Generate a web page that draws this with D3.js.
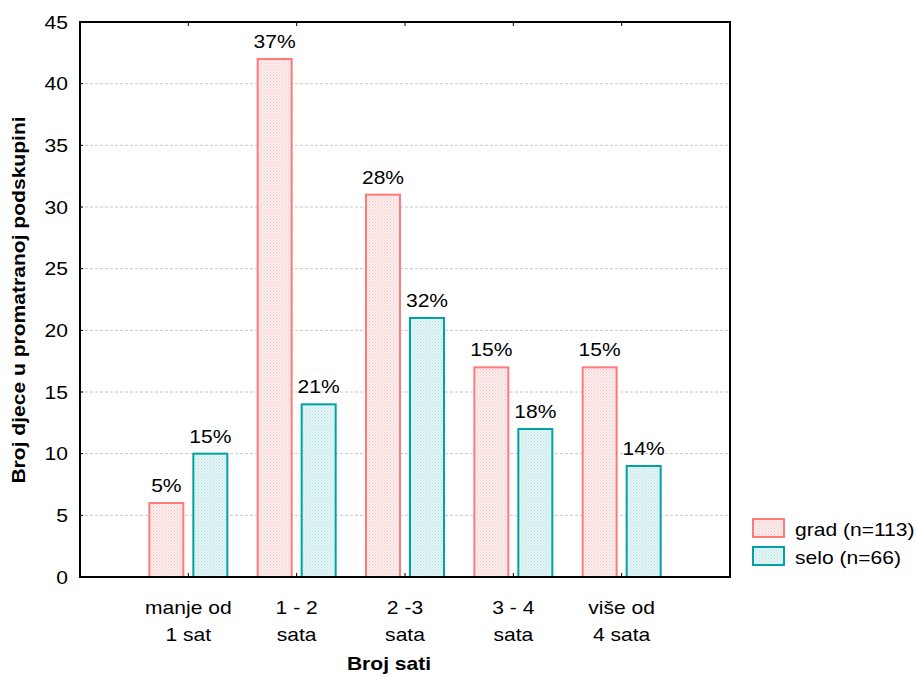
<!DOCTYPE html>
<html>
<head>
<meta charset="utf-8">
<script src="https://cdn.jsdelivr.net/npm/d3@7"></script>
<style>
body { margin: 0; background: #fff; }
svg { font-family: "Liberation Sans", Arial, sans-serif; }
</style>
</head>
<body>
<svg id="chart" width="917" height="676"></svg>
<script>
const categories = [["manje od", "1 sat"], ["1 - 2", "sata"], ["2 -3", "sata"], ["3 - 4", "sata"], ["više od", "4 sata"]];
const gradValues = [6, 42, 31, 17, 17];
const seloValues = [10, 14, 21, 12, 9];
const gradLabels = ["5%", "37%", "28%", "15%", "15%"];
const seloLabels = ["15%", "21%", "32%", "18%", "14%"];
const yTicks = [0, 5, 10, 15, 20, 25, 30, 35, 40, 45];
const seriesNames = ["grad (n=113)", "selo (n=66)"];

const svg = d3.select("#chart");
const L = 80, R = 730, T = 22, B = 577;
const FS = 18, SX = 1.17;

const y = d3.scaleLinear().domain([0, 45]).range([B, T]);
const x = d3.scaleLinear().domain([0, 6]).range([L, R]);

function txt(parent, px, py, str, anchor, bold, rot) {
  return parent.append("text")
    .attr("transform", `translate(${px},${py})` + (rot ? ` rotate(${rot})` : "") + ` scale(${SX},1)`)
    .attr("text-anchor", anchor || "start")
    .attr("font-size", FS)
    .attr("font-weight", bold ? "bold" : "normal")
    .attr("fill", "#000")
    .text(str);
}

const defs = svg.append("defs");
function pattern(id, bg, dot) {
  const p = defs.append("pattern").attr("id", id).attr("width", 3).attr("height", 3)
    .attr("patternUnits", "userSpaceOnUse");
  p.append("rect").attr("width", 3).attr("height", 3).attr("fill", bg);
  p.append("rect").attr("width", 1).attr("height", 1).attr("fill", dot);
  p.append("rect").attr("x", 1.5).attr("y", 1.5).attr("width", 1).attr("height", 1).attr("fill", dot);
}
pattern("pinkPat", "#fdeeee", "#f7c6c6");
pattern("tealPat", "#e6f6f6", "#b3e0e0");
const series = [
  {values: gradValues, labels: gradLabels, stroke: "#ff7b7b", fill: "url(#pinkPat)", off: -39},
  {values: seloValues, labels: seloLabels, stroke: "#00a3a3", fill: "url(#tealPat)", off: 5}
];
const bw = 34;

// gridlines
svg.append("g").selectAll("line").data(yTicks.filter(d => d > 0 && d < 45)).join("line")
  .attr("x1", L).attr("x2", R).attr("y1", d => y(d)).attr("y2", d => y(d))
  .attr("stroke", "#c8c8c8").attr("stroke-dasharray", "3,2").attr("stroke-width", 1);

// bars
series.forEach(s => {
  const g = svg.append("g");
  g.selectAll("rect").data(s.values).join("rect")
    .attr("x", (d, i) => x(i + 1) + s.off)
    .attr("y", d => y(d))
    .attr("width", bw)
    .attr("height", d => B - y(d))
    .attr("fill", s.fill)
    .attr("stroke", s.stroke)
    .attr("stroke-width", 2);
  s.values.forEach((d, i) => {
    txt(g, x(i + 1) + s.off + bw / 2, y(d) - 11, s.labels[i], "middle");
  });
});

// y axis ticks (inside) and labels
const ya = svg.append("g");
ya.selectAll("line").data(yTicks).join("line")
  .attr("x1", L).attr("x2", L + 3).attr("y1", d => y(d)).attr("y2", d => y(d)).attr("stroke", "#000");
yTicks.forEach(t => txt(ya, 68, y(t) + 6.5, String(t), "end"));

// bottom/top ticks (inside)
const xb = svg.append("g");
[1, 2, 3, 4, 5].forEach(i => {
  xb.append("line").attr("x1", x(i)).attr("x2", x(i)).attr("y1", B).attr("y2", B - 4).attr("stroke", "#000");
  xb.append("line").attr("x1", x(i)).attr("x2", x(i)).attr("y1", T).attr("y2", T + 4).attr("stroke", "#000");
});

// frame
svg.append("rect").attr("x", L).attr("y", T).attr("width", R - L).attr("height", B - T)
  .attr("fill", "none").attr("stroke", "#000").attr("stroke-width", 2);

// category labels
const cg = svg.append("g");
categories.forEach((c, i) => {
  txt(cg, x(i + 1), 614, c[0], "middle");
  txt(cg, x(i + 1), 641, c[1], "middle");
});

// axis titles
txt(svg, 389, 670, "Broj sati", "middle", true);
txt(svg, 25, 300, "Broj djece u promatranoj podskupini", "middle", true, -90);

// legend
const lg = svg.append("g");
seriesNames.forEach((n, i) => {
  const gy = 519 + i * 28;
  lg.append("rect").attr("x", 753).attr("y", gy).attr("width", 31).attr("height", 18)
    .attr("fill", series[i].fill).attr("stroke", series[i].stroke).attr("stroke-width", 2);
  txt(lg, 795, gy + 17, n, "start");
});
</script>
</body>
</html>
